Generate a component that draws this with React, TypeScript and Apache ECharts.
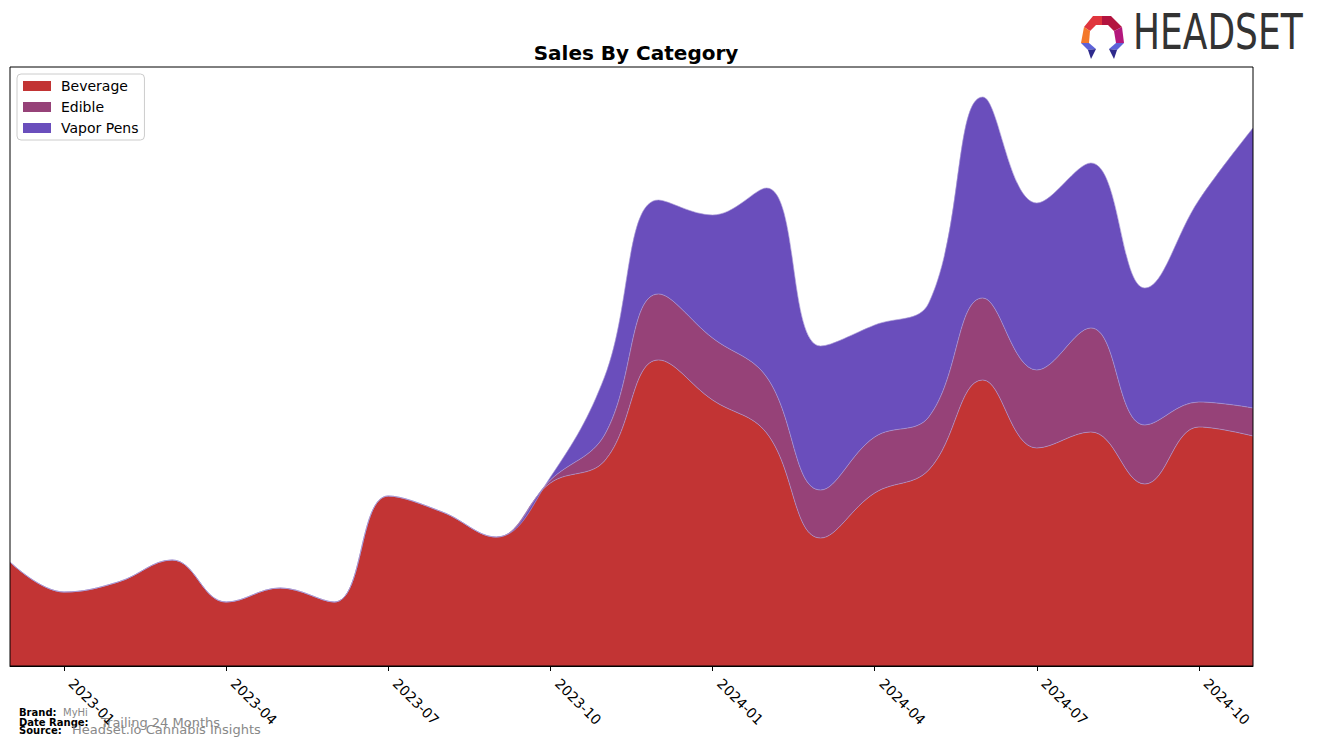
import React, { useEffect, useRef } from "react";
import * as echarts from "echarts";

const months = [
  "2022-12", "2023-01", "2023-02", "2023-03", "2023-04", "2023-05", "2023-06",
  "2023-07", "2023-08", "2023-09", "2023-10", "2023-11", "2023-12",
  "2024-01", "2024-02", "2024-03", "2024-04", "2024-05", "2024-06",
  "2024-07", "2024-08", "2024-09", "2024-10", "2024-11",
];

const beverage = [104, 74, 84, 106, 64, 78, 64, 170, 154, 129, 183, 205, 306, 266, 233, 128, 173, 196, 286, 218, 234, 182, 239, 230];
const edible = [0, 0, 0, 0, 0, 0, 0, 0, 0, 0, 3, 26, 66, 62, 56, 48, 56, 53, 82, 78, 104, 59, 25, 28];
const vaporPens = [0, 0, 0, 0, 0, 0, 0, 0, 0, 0, 3, 58, 94, 123, 189, 144, 112, 114, 201, 167, 165, 137, 202, 280];

const seriesNames = ["Beverage", "Edible", "Vapor Pens"];
const seriesColors = ["#C23434", "#964278", "#6A4EBC"];

const FONT = "DejaVu Sans";

export default function App() {
  const ref = useRef<HTMLDivElement>(null);

  useEffect(() => {
    if (!ref.current) return;
    const chart = echarts.init(ref.current, undefined, { renderer: "svg" });
    const showIdx = (i: number) => i % 3 === 1;
    const dataSets = [beverage, edible, vaporPens];

    chart.setOption({
      animation: false,
      color: seriesColors,
      title: {
        text: "Sales By Category",
        left: 631,
        top: 38,
        textAlign: "center",
        textStyle: { fontFamily: FONT, fontSize: 20, fontWeight: "bold", color: "#000" },
      },
      legend: {
        orient: "vertical",
        left: 17,
        top: 74,
        padding: [5, 6, 5, 6],
        itemGap: 7,
        itemWidth: 28,
        itemHeight: 10,
        icon: "rect",
        borderColor: "#cccccc",
        borderWidth: 1,
        borderRadius: 4,
        backgroundColor: "#ffffff",
        textStyle: { fontFamily: FONT, fontSize: 14, color: "#000", padding: [0, 0, 0, 5] },
        data: seriesNames,
      },
      grid: { left: 10, right: 64, top: 67, bottom: 82, containLabel: false },
      xAxis: {
        type: "category",
        boundaryGap: false,
        data: months,
        axisLine: { show: true, lineStyle: { color: "#000", width: 1 } },
        axisTick: { show: true, interval: (i: number) => showIdx(i), length: 5, lineStyle: { color: "#000" } },
        axisLabel: {
          interval: (i: number) => showIdx(i),
          rotate: -45,
          margin: 8,
          padding: [0, 0, 0, 10],
          fontFamily: FONT,
          fontSize: 14,
          color: "#000",
        },
        splitLine: { show: false },
      },
      yAxis: {
        type: "value",
        min: 0,
        max: 599,
        axisLine: { show: false },
        axisTick: { show: false },
        axisLabel: { show: false },
        splitLine: { show: false },
      },
      series: seriesNames.map((name, k) => ({
        name,
        type: "line",
        stack: "total",
        smooth: 0.4,
        symbol: "none",
        data: dataSets[k],
        lineStyle: { width: 0.8, color: "#a99bd6", opacity: 0.8 },
        areaStyle: { color: seriesColors[k], opacity: 1 },
        itemStyle: { color: seriesColors[k] },
        z: 2,
      })),
      graphic: [
        {
          type: "rect",
          z: 100,
          silent: true,
          shape: { x: 10, y: 67, width: 1243, height: 599 },
          style: { fill: "none", stroke: "#000", lineWidth: 1 },
        },
        // logo icon
        { type: "polygon", z: 100, shape: { points: [[1084, 27], [1093, 16], [1102, 16], [1102, 25], [1096, 25], [1090, 31]] }, style: { fill: "#E0353D" } },
        { type: "polygon", z: 100, shape: { points: [[1102, 16], [1111, 16], [1122, 27], [1114, 31], [1108, 25], [1102, 25]] }, style: { fill: "#B3143F" } },
        { type: "polygon", z: 100, shape: { points: [[1084, 27], [1090, 31], [1089, 43], [1081, 43]] }, style: { fill: "#F4792B" } },
        { type: "polygon", z: 100, shape: { points: [[1122, 27], [1124, 43], [1116, 43], [1114, 31]] }, style: { fill: "#B4177C" } },
        { type: "polygon", z: 100, shape: { points: [[1081, 43], [1089, 43], [1096, 49], [1088, 50]] }, style: { fill: "#5D62D8" } },
        { type: "polygon", z: 100, shape: { points: [[1088, 50], [1096, 49], [1091, 59]] }, style: { fill: "#2E2A8C" } },
        { type: "polygon", z: 100, shape: { points: [[1124, 43], [1116, 43], [1109, 49], [1117, 50]] }, style: { fill: "#5D62D8" } },
        { type: "polygon", z: 100, shape: { points: [[1117, 50], [1109, 49], [1114, 59]] }, style: { fill: "#2E2A8C" } },
        {
          type: "text",
          z: 100,
          x: 1133,
          y: 57,
          scaleX: 0.72,
          style: { text: "HEADSET", fontFamily: FONT, fontSize: 50, fill: "#333333", textVerticalAlign: "bottom" },
        },
        // footer
        { type: "text", x: 19, y: 712.5, style: { text: "Brand:", fontFamily: FONT, fontSize: 10, fontWeight: "bold", fill: "#000", textVerticalAlign: "middle" } },
        { type: "text", x: 63, y: 712.5, style: { text: "MyHi", fontFamily: FONT, fontSize: 10, fill: "#888888", textVerticalAlign: "middle" } },
        { type: "text", x: 19, y: 722.5, style: { text: "Date Range:", fontFamily: FONT, fontSize: 10, fontWeight: "bold", fill: "#000", textVerticalAlign: "middle" } },
        { type: "text", x: 101, y: 722, style: { text: "Trailing 24 Months", fontFamily: FONT, fontSize: 13, fill: "#888888", textVerticalAlign: "middle" } },
        { type: "text", x: 19, y: 730.5, style: { text: "Source:", fontFamily: FONT, fontSize: 10, fontWeight: "bold", fill: "#000", textVerticalAlign: "middle" } },
        { type: "text", x: 72, y: 729.5, style: { text: "Headset.io Cannabis Insights", fontFamily: FONT, fontSize: 13, fill: "#888888", textVerticalAlign: "middle" } },
      ],
    });

    return () => chart.dispose();
  }, []);

  return <div ref={ref} style={{ width: 1317, height: 748, position: "absolute", left: 0, top: 0 }} />;
}
